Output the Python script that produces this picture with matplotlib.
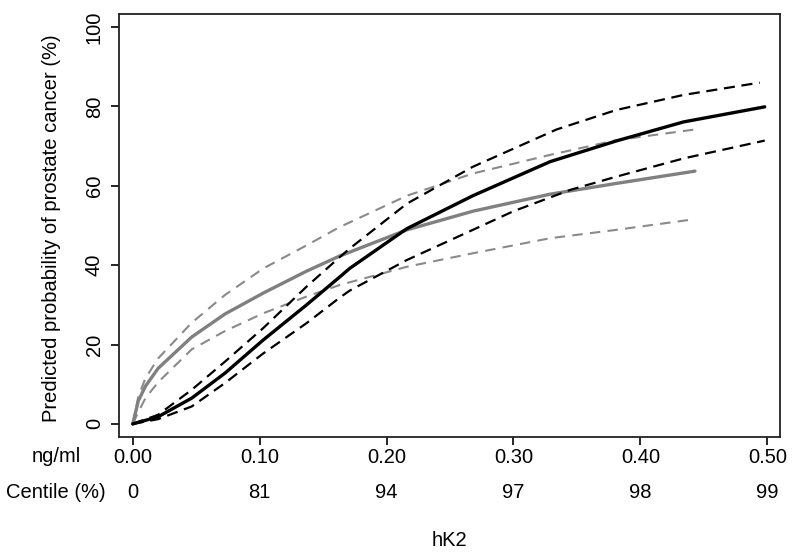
import matplotlib
matplotlib.use("Agg")
import matplotlib.pyplot as plt
from matplotlib.transforms import blended_transform_factory

plt.rcParams['font.family'] = ['Liberation Sans', 'DejaVu Sans']

# hK2 (ng/ml) vs predicted probability of prostate cancer (%)
# black model: estimate with lower / upper confidence band
black_x = [0.00, 0.020, 0.0465, 0.0727, 0.103, 0.137, 0.163, 0.171,
           0.216, 0.268, 0.329, 0.381, 0.434, 0.498]
black_mid = [0.0, 1.8, 6.5, 12.8, 21.2, 30.0, 37.0, 39.2,
             49.2, 57.5, 66.1, 71.3, 76.1, 79.9]

black_up_x = [0.00, 0.020, 0.0465, 0.0727, 0.103, 0.137, 0.163, 0.171,
              0.216, 0.268, 0.334, 0.381, 0.434, 0.494]
black_up = [0.0, 2.3, 8.6, 15.7, 24.2, 34.6, 42.0, 44.2,
            55.5, 64.8, 74.2, 79.1, 82.9, 86.0]

black_lo_x = [0.00, 0.020, 0.0465, 0.0727, 0.103, 0.137, 0.163, 0.171,
              0.216, 0.268, 0.300, 0.345, 0.381, 0.434, 0.498]
black_lo = [0.0, 1.2, 4.4, 10.3, 17.8, 25.4, 31.8, 33.6,
            41.3, 48.9, 53.6, 59.0, 62.3, 66.9, 71.4]

# grey model: estimate with lower / upper confidence band
grey_x = [0.00, 0.0044, 0.010, 0.020, 0.0465, 0.0727, 0.103, 0.137,
          0.163, 0.216, 0.268, 0.329, 0.381, 0.443]
grey_mid = [0.0, 5.8, 9.5, 14.0, 21.9, 27.7, 33.0, 38.5,
            42.3, 48.9, 53.6, 57.9, 60.6, 63.7]
grey_up = [0.0, 6.9, 11.5, 16.5, 25.5, 32.5, 39.2, 45.0,
           49.6, 57.5, 63.1, 67.8, 71.5, 74.2]
grey_lo = [0.0, 3.0, 6.5, 10.5, 18.8, 23.4, 27.9, 32.1,
           35.0, 39.6, 43.0, 46.8, 48.9, 51.6]

x_ticks = [0.0, 0.1, 0.2, 0.3, 0.4, 0.5]
centiles = ['0', '81', '94', '97', '98', '99']
y_ticks = [0, 20, 40, 60, 80, 100]

fs = 14.5
fig = plt.figure(figsize=(7.92, 5.55), dpi=100)
ax = fig.add_axes([0.1503, 0.2126, 0.8345, 0.7622])

grey_c = '#808080'
grey_d = '#8a8a8a'
ax.plot(grey_x, grey_up, color=grey_d, lw=1.5, ls=(0, (5, 3.5)))
ax.plot(grey_x, grey_lo, color=grey_d, lw=1.5, ls=(0, (5, 3.5)))
ax.plot(grey_x, grey_mid, color=grey_c, lw=2.4, solid_capstyle='round',
        solid_joinstyle='round')
ax.plot(black_up_x, black_up, color='black', lw=1.6, ls=(0, (5, 3)))
ax.plot(black_lo_x, black_lo, color='black', lw=1.6, ls=(0, (5, 3)))
ax.plot(black_x, black_mid, color='black', lw=2.4, solid_capstyle='round',
        solid_joinstyle='round')

ax.set_xlim(-0.0108, 0.510)
ax.set_ylim(-3.3, 103.3)
ax.set_xticks(x_ticks)
ax.set_xticklabels([f"{v:.2f}" for v in x_ticks], fontsize=fs)
ax.set_yticks(y_ticks)
ax.set_yticklabels([str(v) for v in y_ticks], fontsize=fs, rotation=90,
                   va='center')
ax.tick_params(direction='out', length=6, width=1.2, pad=2)
ax.tick_params(axis='y', pad=5)
for s in ax.spines.values():
    s.set_linewidth(1.3)
    s.set_color('#222222')

# row labels and centile row under the x axis
fig.text(56 / 792, 1 - 456 / 555, 'ng/ml', ha='center', va='center',
         fontsize=fs)
fig.text(56 / 792, 1 - 493 / 555, 'Centile (%)', ha='center', va='center',
         fontsize=fs)
trans = blended_transform_factory(ax.transData, fig.transFigure)
for xv, c in zip(x_ticks, centiles):
    ax.text(xv, 1 - 493 / 555, c, transform=trans, ha='center',
            va='center', fontsize=fs)

fig.text(449.5 / 792, 1 - 540 / 555, 'hK2', ha='center', va='center',
         fontsize=fs)
fig.text(52 / 792, 1 - 228 / 555,
         'Predicted probability of prostate cancer (%)', ha='center',
         va='center', rotation=90, fontsize=fs)

fig.savefig('out.png', dpi=100)
